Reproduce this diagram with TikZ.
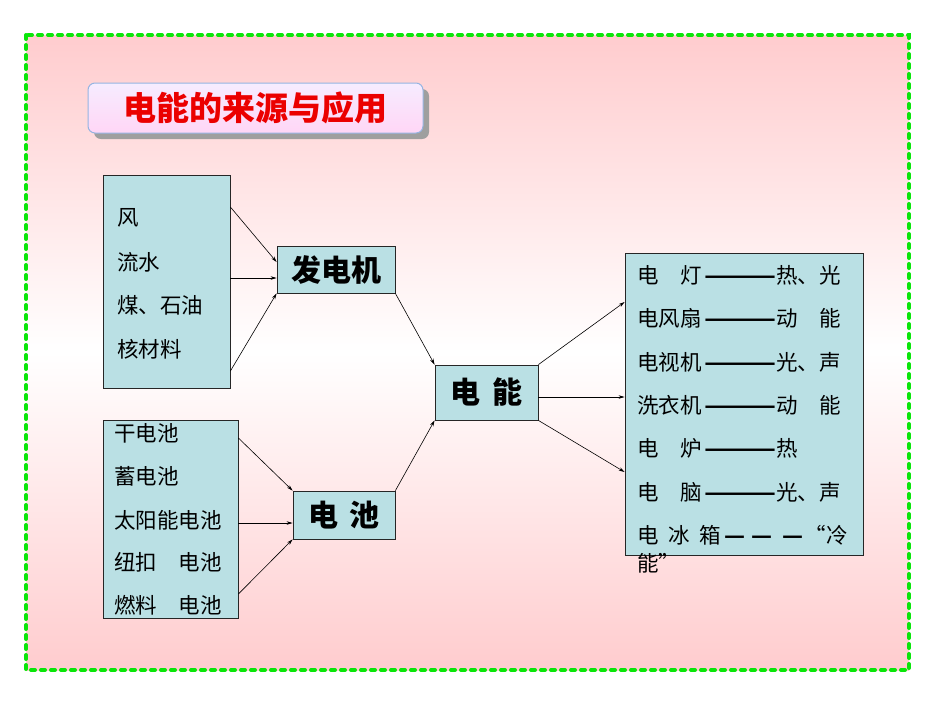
\documentclass[tikz,border=0pt]{standalone}
\usepackage{fontspec}
\usepackage{graphicx}
\newfontfamily\cjk{Noto Sans CJK SC}
\usetikzlibrary{arrows.meta}
\definecolor{boxfill}{RGB}{186,224,228}
\definecolor{bgpink}{RGB}{255,204,206}
\definecolor{dashgreen}{RGB}{10,230,10}
\definecolor{titlered}{RGB}{235,0,0}
\definecolor{titleborder}{RGB}{150,180,225}
\definecolor{titletop}{RGB}{246,236,255}
\definecolor{titlebot}{RGB}{255,214,246}
\begin{document}
\begin{tikzpicture}[x=1pt,y=-1pt,
  box/.style={draw=black!85, line width=0.8pt, fill=boxfill, inner sep=0pt},
  arr/.style={-{Stealth[length=6pt,width=3.5pt]}, line width=0.6pt},
  item/.style={anchor=west, inner sep=0pt, font=\cjk\fontsize{21.5}{24}\selectfont},
  big/.style={font=\cjk\bfseries\fontsize{30}{32}\selectfont}]
\useasboundingbox (0,0) rectangle (950,713);
\fill[white] (0,0) rectangle (950,713);
% background panel
\shade[top color=bgpink, bottom color=bgpink, middle color=white] (26,35) rectangle (909,670);
\draw[dashgreen, line width=4pt, dash pattern=on 4pt off 6pt, line cap=round] (26,35) rectangle (909,670);
% title
\fill[gray!75, rounded corners=7pt] (94,89) rectangle (429,139);
\node (title) [draw=titleborder, line width=1pt, rounded corners=7pt, top color=titletop, bottom color=titlebot,
  minimum width=335pt, minimum height=50pt, inner sep=0pt, text=titlered,
  font=\cjk\bfseries\fontsize{33}{36}\selectfont] at (255.5,108) {电能的来源与应用};
% boxes
\node (A) [box, minimum width=127pt, minimum height=213pt] at (166.5,281.5) {};
\node (E) [box, minimum width=135pt, minimum height=198pt] at (170.5,519) {};
\node (B) [box, big, minimum width=118pt, minimum height=47pt] at (336,269.5) {发电机};
\node (C) [box, big, minimum width=102pt, minimum height=48pt] at (344,515) {电\hspace{0.4em}池};
\node (D) [box, big, minimum width=103pt, minimum height=55pt] at (486.5,392.5) {电\hspace{0.4em}能};
\node (F) [box, minimum width=238pt, minimum height=302pt] at (744,404) {};
% source items
\node (a1) [item] at (117,218) {风};
\node (a2) [item] at (117,262) {流水};
\node (a3) [item] at (117,305) {煤、石油};
\node (a4) [item] at (117,349) {核材料};
\node (e1) [item] at (114,433) {干电池};
\node (e2) [item] at (114,476) {蓄电池};
\node (e3) [item] at (114,520) {太阳能电池};
\node (e4) [item] at (114,562) {纽扣　电池};
\node (e5) [item] at (114,605) {燃料　电池};
% uses
\newcommand{\dashrule}{\makebox[72pt][c]{\resizebox{72pt}{\height}{\bfseries ———}}}
\newcommand{\onedash}{\resizebox{21pt}{\height}{\bfseries —}}
\node (f1) [item] at (637,275) {\makebox[67pt][l]{电　灯}\dashrule 热、光};
\node (f2) [item] at (637,318) {\makebox[67pt][l]{电风扇}\dashrule 动　能};
\node (f3) [item] at (637,362) {\makebox[67pt][l]{电视机}\dashrule 光、声};
\node (f4) [item] at (637,405) {\makebox[67pt][l]{洗衣机}\dashrule 动　能};
\node (f5) [item] at (637,448) {\makebox[67pt][l]{电　炉}\dashrule 热};
\node (f6) [item] at (637,492) {\makebox[67pt][l]{电　脑}\dashrule 光、声};
\node (f7) [item] at (637,535) {\makebox[31pt][l]{电}\makebox[31pt][l]{冰}\makebox[25pt][l]{箱}\makebox[27pt][l]{\onedash}\makebox[31pt][l]{\onedash}\makebox[24pt][l]{\onedash}\makebox[20pt][r]{“}冷};
\node (f8) [item] at (637,563) {能”};
% connectors
\draw[arr] (A.east |- 0,207) -- (B.west |- 0,262);
\draw[arr] (A.east |- 0,278) -- (B.west |- 0,278);
\draw[arr] (A.east |- 0,371) -- (B.south west);
\draw[arr] (E.east |- 0,438) -- (C.north west);
\draw[arr] (E.east |- 0,523) -- (C.west |- 0,523);
\draw[arr] (E.east |- 0,594) -- (C.south west);
\draw[arr] (B.south east) -- (D.north west);
\draw[arr] (C.north east) -- (D.south west);
\draw[arr] (D.north east) -- (F.west |- 0,302);
\draw[arr] (D.east |- 0,397) -- (F.west |- 0,397);
\draw[arr] (D.south east) -- (F.west |- 0,472);
\end{tikzpicture}
\end{document}
